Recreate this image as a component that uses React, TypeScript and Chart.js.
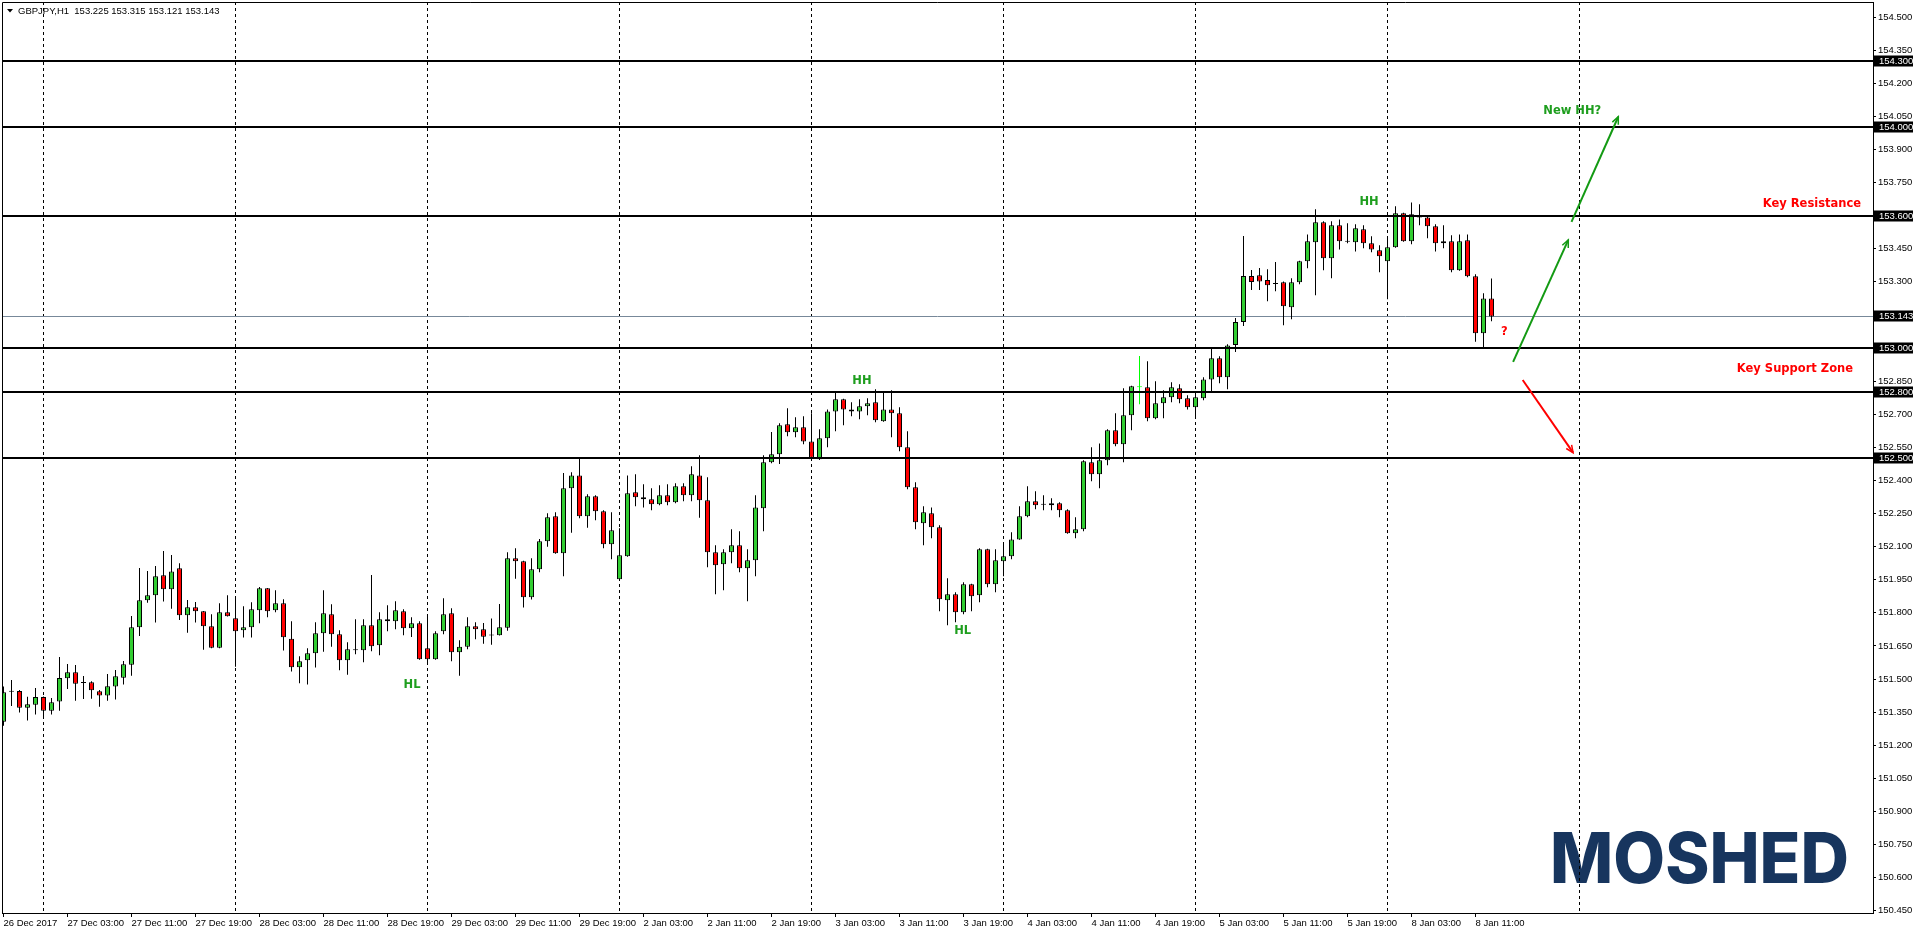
import React, { useEffect, useRef } from 'react';
import { Chart, registerables } from 'chart.js';

Chart.register(...registerables);

// ---------- data ----------
const symbolTitle = 'GBPJPY,H1';

const timeLabels = [
  '26 Dec 2017', '27 Dec 03:00', '27 Dec 11:00', '27 Dec 19:00', '28 Dec 03:00', '28 Dec 11:00',
  '28 Dec 19:00', '29 Dec 03:00', '29 Dec 11:00', '29 Dec 19:00', '2 Jan 03:00', '2 Jan 11:00',
  '2 Jan 19:00', '3 Jan 03:00', '3 Jan 11:00', '3 Jan 19:00', '4 Jan 03:00', '4 Jan 11:00',
  '4 Jan 19:00', '5 Jan 03:00', '5 Jan 11:00', '5 Jan 19:00', '8 Jan 03:00', '8 Jan 11:00',
];
const barsPerLabel = 8;
const dayStartBars = [5, 29, 53, 77, 101, 125, 149, 173, 197];

const openP = [
  151.307, 151.442, 151.446, 151.370, 151.384, 151.419, 151.357, 151.398, 151.504, 151.531,
  151.482, 151.486, 151.445, 151.425, 151.466, 151.506, 151.565, 151.735, 151.857, 151.880,
  151.970, 151.907, 152.002, 151.789, 151.825, 151.807, 151.739, 151.642, 151.803, 151.776,
  151.721, 151.735, 151.812, 151.911, 151.812, 151.843, 151.683, 151.553, 151.585, 151.617,
  151.708, 151.794, 151.703, 151.585, 151.631, 151.631, 151.744, 151.653, 151.771, 151.762,
  151.807, 151.730, 151.753, 151.640, 151.590, 151.717, 151.798, 151.621, 151.647, 151.739,
  151.726, 151.697, 151.699, 151.733, 152.047, 152.034, 151.871, 151.998, 152.124, 152.238,
  152.070, 152.365, 152.423, 152.238, 152.328, 152.260, 152.111, 151.952, 152.056, 152.346,
  152.324, 152.315, 152.292, 152.333, 152.301, 152.374, 152.333, 152.423, 152.310, 152.075,
  152.020, 152.075, 152.106, 152.002, 152.038, 152.274, 152.482, 152.519, 152.655, 152.618,
  152.641, 152.577, 152.496, 152.591, 152.713, 152.768, 152.722, 152.713, 152.736, 152.754,
  152.668, 152.722, 152.704, 152.550, 152.369, 152.206, 152.251, 152.188, 151.857, 151.884,
  151.803, 151.930, 151.880, 152.088, 151.930, 152.034, 152.056, 152.133, 152.238, 152.306,
  152.290, 152.288, 152.297, 152.265, 152.161, 152.179, 152.482, 152.428, 152.491, 152.627,
  152.564, 152.695, 152.822, 152.822, 152.682, 152.750, 152.777, 152.818, 152.772, 152.732,
  152.772, 152.858, 152.954, 152.868, 153.014, 153.118, 153.326, 153.330, 153.308, 153.290,
  153.298, 153.185, 153.298, 153.393, 153.479, 153.570, 153.407, 153.556, 153.482, 153.479,
  153.538, 153.475, 153.443, 153.393, 153.457, 153.611, 153.484, 153.602, 153.592, 153.552,
  153.475, 153.484, 153.352, 153.488, 153.325, 153.067, 153.225,
];

const highP = [
  151.466, 151.496, 151.451, 151.420, 151.460, 151.421, 151.414, 151.600, 151.568, 151.564,
  151.514, 151.490, 151.451, 151.523, 151.541, 151.582, 151.786, 152.003, 151.990, 152.012,
  152.080, 152.062, 152.025, 151.858, 151.849, 151.809, 151.794, 151.843, 151.880, 151.875,
  151.830, 151.848, 151.917, 151.913, 151.902, 151.862, 151.762, 151.603, 151.640, 151.757,
  151.902, 151.839, 151.721, 151.667, 151.771, 151.771, 151.972, 151.803, 151.834, 151.853,
  151.816, 151.780, 151.762, 151.794, 151.717, 151.866, 151.821, 151.676, 151.780, 151.757,
  151.754, 151.775, 151.840, 152.075, 152.093, 152.036, 152.047, 152.135, 152.251, 152.256,
  152.434, 152.437, 152.500, 152.337, 152.333, 152.265, 152.256, 152.183, 152.423, 152.428,
  152.383, 152.365, 152.378, 152.383, 152.387, 152.387, 152.464, 152.514, 152.414, 152.106,
  152.088, 152.179, 152.170, 152.088, 152.333, 152.514, 152.620, 152.659, 152.727, 152.686,
  152.691, 152.704, 152.632, 152.722, 152.800, 152.770, 152.754, 152.768, 152.772, 152.813,
  152.800, 152.809, 152.732, 152.623, 152.392, 152.283, 152.278, 152.197, 151.957, 151.893,
  151.939, 151.932, 152.093, 152.090, 152.088, 152.115, 152.165, 152.283, 152.374, 152.351,
  152.333, 152.319, 152.301, 152.269, 152.233, 152.491, 152.550, 152.568, 152.632, 152.704,
  152.818, 152.829, 152.964, 152.940, 152.849, 152.809, 152.845, 152.836, 152.786, 152.800,
  152.868, 152.999, 152.963, 153.017, 153.136, 153.508, 153.354, 153.363, 153.357, 153.390,
  153.302, 153.316, 153.395, 153.515, 153.629, 153.574, 153.574, 153.583, 153.565, 153.561,
  153.556, 153.506, 153.466, 153.506, 153.642, 153.613, 153.660, 153.651, 153.594, 153.561,
  153.556, 153.511, 153.515, 153.515, 153.334, 153.248, 153.315,
];

const lowP = [
  151.289, 151.378, 151.348, 151.312, 151.339, 151.321, 151.339, 151.357, 151.455, 151.402,
  151.410, 151.411, 151.375, 151.402, 151.407, 151.475, 151.515, 151.695, 151.846, 151.756,
  151.851, 151.819, 151.768, 151.710, 151.756, 151.633, 151.640, 151.640, 151.783, 151.556,
  151.688, 151.688, 151.753, 151.780, 151.803, 151.629, 151.534, 151.481, 151.475, 151.552,
  151.624, 151.647, 151.540, 151.520, 151.612, 151.576, 151.626, 151.608, 151.717, 151.726,
  151.699, 151.691, 151.588, 151.572, 151.588, 151.703, 151.581, 151.515, 151.635, 151.680,
  151.660, 151.656, 151.697, 151.719, 151.955, 151.824, 151.860, 151.984, 152.100, 152.068,
  151.966, 152.163, 152.229, 152.186, 152.220, 152.093, 152.043, 151.948, 152.054, 152.283,
  152.278, 152.265, 152.288, 152.288, 152.297, 152.306, 152.306, 152.231, 152.007, 151.884,
  151.902, 152.025, 151.984, 151.853, 151.966, 152.170, 152.478, 152.475, 152.600, 152.596,
  152.564, 152.497, 152.493, 152.550, 152.623, 152.650, 152.691, 152.677, 152.695, 152.664,
  152.666, 152.596, 152.532, 152.360, 152.179, 152.106, 152.138, 151.807, 151.744, 151.757,
  151.794, 151.807, 151.848, 151.916, 151.893, 151.966, 152.043, 152.131, 152.233, 152.269,
  152.265, 152.265, 152.233, 152.159, 152.138, 152.170, 152.396, 152.365, 152.469, 152.555,
  152.482, 152.627, 152.745, 152.668, 152.677, 152.682, 152.754, 152.750, 152.722, 152.682,
  152.763, 152.804, 152.840, 152.813, 152.982, 153.100, 153.263, 153.263, 153.212, 153.257,
  153.103, 153.130, 153.289, 153.361, 153.239, 153.352, 153.316, 153.447, 153.475, 153.438,
  153.452, 153.434, 153.343, 153.221, 153.455, 153.482, 153.470, 153.556, 153.497, 153.438,
  153.452, 153.343, 153.350, 153.321, 153.029, 153.003, 153.121,
];

const closeP = [
  151.440, 151.442, 151.370, 151.386, 151.419, 151.357, 151.395, 151.505, 151.531, 151.479,
  151.482, 151.449, 151.425, 151.467, 151.513, 151.567, 151.735, 151.857, 151.880, 151.966,
  151.907, 151.988, 151.789, 151.825, 151.807, 151.739, 151.642, 151.803, 151.785, 151.717,
  151.735, 151.816, 151.911, 151.807, 151.843, 151.689, 151.553, 151.581, 151.617, 151.708,
  151.798, 151.703, 151.585, 151.635, 151.631, 151.744, 151.649, 151.771, 151.762, 151.812,
  151.730, 151.753, 151.590, 151.590, 151.708, 151.794, 151.621, 151.647, 151.739, 151.726,
  151.692, 151.697, 151.735, 152.047, 152.034, 151.871, 151.998, 152.124, 152.233, 152.070,
  152.365, 152.423, 152.238, 152.328, 152.260, 152.111, 152.174, 152.061, 152.342, 152.324,
  152.315, 152.292, 152.333, 152.301, 152.374, 152.333, 152.428, 152.310, 152.075, 152.016,
  152.075, 152.106, 152.002, 152.038, 152.278, 152.482, 152.519, 152.650, 152.618, 152.641,
  152.577, 152.503, 152.591, 152.713, 152.768, 152.722, 152.713, 152.736, 152.750, 152.673,
  152.722, 152.704, 152.550, 152.369, 152.211, 152.256, 152.188, 151.862, 151.884, 151.803,
  151.930, 151.875, 152.088, 151.930, 152.038, 152.056, 152.133, 152.238, 152.306, 152.288,
  152.290, 152.297, 152.265, 152.161, 152.179, 152.487, 152.428, 152.491, 152.627, 152.564,
  152.695, 152.827, 152.822, 152.682, 152.750, 152.777, 152.822, 152.768, 152.732, 152.777,
  152.858, 152.954, 152.868, 153.012, 153.118, 153.326, 153.299, 153.301, 153.284, 153.290,
  153.189, 153.298, 153.393, 153.484, 153.570, 153.407, 153.556, 153.484, 153.482, 153.543,
  153.475, 153.447, 153.416, 153.457, 153.611, 153.484, 153.606, 153.592, 153.552, 153.475,
  153.484, 153.352, 153.484, 153.325, 153.067, 153.225, 153.143,
];

const priceTicks = [
  150.45, 150.6, 150.75, 150.9, 151.05, 151.2, 151.35, 151.5, 151.65, 151.8, 151.95, 152.1, 152.25, 152.4,
  152.55, 152.7, 152.85, 153.0, 153.15, 153.3, 153.45, 153.6, 153.75, 153.9, 154.05, 154.2, 154.35, 154.5,
];
const levelPrices = [154.3, 154.0, 153.6, 153.0, 152.8, 152.5];
const highlightedBar = 142;

// annotations (in bar-index / price coordinates)
const noteTexts = ['HH', 'HL', 'HL', 'HH', '?', 'New HH?', 'Key Resistance', 'Key Support Zone'];
const noteBars = [107.3, 51.06, 119.9, 170.7, 187.6, 196.1, 232.2, 231.2];
const notePrices = [152.851, 151.473, 151.718, 153.662, 153.073, 154.074, 153.653, 152.905];
const noteKinds = ['up', 'up', 'up', 'up', 'down', 'up', 'down', 'down'];
const noteAlign = ['center', 'center', 'center', 'center', 'center', 'center', 'right', 'right'];

const arrowFromBar = [188.7, 196.0, 189.9];
const arrowFromPrice = [152.937, 153.572, 152.855];
const arrowToBar = [195.6, 201.85, 196.2];
const arrowToPrice = [153.49, 154.048, 152.526];
const arrowKinds = ['up', 'up', 'down'];

// ---------- styles ----------
const UP = '#32CD32';
const DOWN = '#FF0000';
const LIME = '#00FF00';
const NOTE_GREEN = '#1E9E1E';
const ARROW_GREEN = '#139A13';
const NOTE_RED = '#FF0000';
const AXIS_FONT = '9.5px "Liberation Sans", Arial, sans-serif';
const NOTE_FONT = 'bold 11.5px "DejaVu Sans", Verdana, sans-serif';

const fmt = (v: number) => v.toFixed(3);

const overlayPlugin = {
  id: 'mtOverlay',
  beforeDatasetsDraw(chart: any) {
    const { ctx, chartArea: a, scales } = chart;
    const x = scales.x;
    const y = scales.y;
    ctx.save();
    // watermark logo
    ctx.fillStyle = '#17355E';
    ctx.font = '800 70px Inter, "Open Sans", sans-serif';
    ctx.textBaseline = 'alphabetic';
    ctx.textAlign = 'left';
    const w = ctx.measureText('MOSHED').width;
    ctx.save();
    ctx.translate(1550, 883);
    ctx.scale(299 / w, 1);
    ctx.fillText('MOSHED', 0, 0);
    ctx.restore();

    // day separators
    ctx.beginPath();
    ctx.rect(a.left, a.top, a.right - a.left, a.bottom - a.top);
    ctx.clip();
    ctx.strokeStyle = '#000';
    ctx.lineWidth = 1;
    ctx.setLineDash([3, 3]);
    dayStartBars.forEach((b) => {
      const px = Math.floor(x.getPixelForValue(b)) + 0.5;
      ctx.beginPath();
      ctx.moveTo(px, a.top);
      ctx.lineTo(px, a.bottom);
      ctx.stroke();
    });
    ctx.setLineDash([]);
    // current price line
    const lp = closeP[closeP.length - 1];
    const py = Math.round(y.getPixelForValue(lp)) + 0.5;
    ctx.strokeStyle = '#778899';
    ctx.beginPath();
    ctx.moveTo(a.left, py);
    ctx.lineTo(a.right, py);
    ctx.stroke();
    ctx.restore();
  },
  afterDatasetsDraw(chart: any) {
    const { ctx, chartArea: a, scales } = chart;
    const x = scales.x;
    const y = scales.y;
    ctx.save();
    ctx.beginPath();
    ctx.rect(a.left, a.top, a.right - a.left, a.bottom - a.top);
    ctx.clip();
    // horizontal levels
    ctx.strokeStyle = '#000';
    ctx.lineWidth = 2;
    levelPrices.forEach((p) => {
      const py = Math.round(y.getPixelForValue(p));
      ctx.beginPath();
      ctx.moveTo(a.left, py);
      ctx.lineTo(a.right, py);
      ctx.stroke();
    });
    // arrows
    arrowFromBar.forEach((_, i) => {
      const x1 = x.getPixelForValue(arrowFromBar[i]);
      const y1 = y.getPixelForValue(arrowFromPrice[i]);
      const x2 = x.getPixelForValue(arrowToBar[i]);
      const y2 = y.getPixelForValue(arrowToPrice[i]);
      ctx.strokeStyle = arrowKinds[i] === 'up' ? ARROW_GREEN : NOTE_RED;
      ctx.lineWidth = 2;
      ctx.beginPath();
      ctx.moveTo(x1, y1);
      ctx.lineTo(x2, y2);
      ctx.stroke();
      const ang = Math.atan2(y2 - y1, x2 - x1);
      const len = 8;
      const sp = 0.42;
      ctx.lineWidth = 1.5;
      ctx.beginPath();
      ctx.moveTo(x2 - len * Math.cos(ang - sp), y2 - len * Math.sin(ang - sp));
      ctx.lineTo(x2, y2);
      ctx.lineTo(x2 - len * Math.cos(ang + sp), y2 - len * Math.sin(ang + sp));
      ctx.stroke();
    });
    // notes
    ctx.font = NOTE_FONT;
    ctx.textBaseline = 'middle';
    noteTexts.forEach((t, i) => {
      ctx.fillStyle = noteKinds[i] === 'up' ? NOTE_GREEN : NOTE_RED;
      ctx.textAlign = noteAlign[i] as CanvasTextAlign;
      ctx.fillText(t, x.getPixelForValue(noteBars[i]), y.getPixelForValue(notePrices[i]));
    });
    ctx.restore();

    // title
    ctx.save();
    ctx.fillStyle = '#000';
    ctx.beginPath();
    ctx.moveTo(7, 9);
    ctx.lineTo(13, 9);
    ctx.lineTo(10, 12.5);
    ctx.closePath();
    ctx.fill();
    const n = closeP.length - 1;
    ctx.font = AXIS_FONT;
    ctx.textBaseline = 'middle';
    ctx.textAlign = 'left';
    ctx.fillText(
      `${symbolTitle}  ${fmt(openP[n])} ${fmt(highP[n])} ${fmt(lowP[n])} ${fmt(closeP[n])}`,
      18,
      11
    );
    ctx.restore();
  },
  afterDraw(chart: any) {
    const { ctx, chartArea: a, scales } = chart;
    const y = scales.y;
    ctx.save();
    // frame left/top
    ctx.strokeStyle = '#000';
    ctx.lineWidth = 1;
    ctx.beginPath();
    ctx.moveTo(a.left + 0.5, a.bottom);
    ctx.lineTo(a.left + 0.5, a.top + 0.5);
    ctx.lineTo(a.right, a.top + 0.5);
    ctx.stroke();
    // price boxes
    ctx.font = AXIS_FONT;
    ctx.textBaseline = 'middle';
    ctx.textAlign = 'left';
    const boxes = [...levelPrices, closeP[closeP.length - 1]];
    boxes.forEach((p) => {
      const py = Math.round(y.getPixelForValue(p));
      ctx.fillStyle = '#000';
      ctx.fillRect(a.right + 1, py - 5.5, 39, 11);
      ctx.fillStyle = '#fff';
      ctx.fillText(fmt(p), a.right + 6, py + 0.5);
    });
    ctx.restore();
  },
};

export default function App() {
  const canvasRef = useRef<HTMLCanvasElement | null>(null);

  useEffect(() => {
    document.body.style.margin = '0';
    const canvas = canvasRef.current;
    if (!canvas) return;

    const bodyData = openP.map((o, i) => ({ x: i, y: [Math.min(o, closeP[i]), Math.max(o, closeP[i])] }));
    const wickData = openP.map((_, i) => ({ x: i, y: [lowP[i], highP[i]] }));
    const bodyFill = openP.map((o, i) =>
      i === highlightedBar ? LIME : closeP[i] > o ? UP : closeP[i] < o ? DOWN : '#000'
    );
    const bodyBorder = openP.map((_, i) => (i === highlightedBar ? LIME : '#000'));
    const wickColor = openP.map((_, i) => (i === highlightedBar ? LIME : '#000'));

    const chart = new Chart(canvas, {
      type: 'bar',
      data: {
        datasets: [
          {
            label: 'body',
            data: bodyData as any,
            backgroundColor: bodyFill,
            borderColor: bodyBorder,
            borderWidth: 1,
            borderSkipped: false,
            barThickness: 5,
            minBarLength: 1,
            grouped: false,
            inflateAmount: 0,
            order: 0,
          } as any,
          {
            label: 'wick',
            data: wickData as any,
            backgroundColor: wickColor,
            borderWidth: 0,
            barThickness: 1,
            grouped: false,
            inflateAmount: 0,
            order: 1,
          } as any,
        ],
      },
      options: {
        responsive: false,
        maintainAspectRatio: false,
        animation: false,
        devicePixelRatio: 1,
        events: [],
        layout: { padding: { left: 2, top: 2, right: 0, bottom: 0 } },
        plugins: { legend: { display: false }, tooltip: { enabled: false }, title: { display: false } },
        scales: {
          x: {
            type: 'linear',
            offset: false,
            min: -0.1875,
            max: 233.6875,
            afterBuildTicks: (s: any) => {
              s.ticks = timeLabels.map((_, k) => ({ value: k * barsPerLabel }));
            },
            afterFit: (s: any) => {
              s.height = 21;
              s.paddingLeft = 0;
              s.paddingRight = 0;
            },
            ticks: {
              autoSkip: false,
              maxRotation: 0,
              minRotation: 0,
              align: 'start',
              padding: 1,
              color: '#000',
              font: { family: '"Liberation Sans", Arial, sans-serif', size: 9.5 },
              callback: (v: any) => timeLabels[Math.round(Number(v) / barsPerLabel)] ?? '',
            },
            grid: { offset: false, drawOnChartArea: false, drawTicks: true, tickLength: 4, color: '#000' },
            border: { display: true, color: '#000', width: 1 },
          } as any,
          y: {
            type: 'linear',
            position: 'right',
            min: 150.44,
            max: 154.568,
            afterBuildTicks: (s: any) => {
              s.ticks = priceTicks.map((v) => ({ value: v }));
            },
            afterFit: (s: any) => {
              s.width = 43;
              s.paddingTop = 0;
              s.paddingBottom = 0;
            },
            ticks: {
              padding: 2,
              color: '#000',
              font: { family: '"Liberation Sans", Arial, sans-serif', size: 9.5 },
              callback: (v: any) => Number(v).toFixed(3),
            },
            grid: { drawOnChartArea: false, drawTicks: true, tickLength: 3, color: '#000' },
            border: { display: true, color: '#000', width: 1 },
          } as any,
        },
      },
      plugins: [overlayPlugin],
    });

    return () => chart.destroy();
  }, []);

  return (
    <div style={{ position: 'absolute', left: 0, top: 0, width: 1916, height: 934, background: '#fff' }}>
      <canvas ref={canvasRef} width={1916} height={934} style={{ display: 'block', width: 1916, height: 934 }} />
    </div>
  );
}
